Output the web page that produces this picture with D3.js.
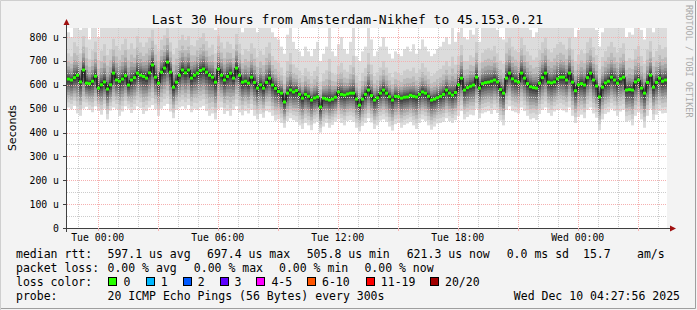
<!DOCTYPE html>
<html>
<head>
<meta charset="utf-8">
<script src="https://cdn.jsdelivr.net/npm/d3@7"></script>
<style>
  html, body { margin: 0; padding: 0; background: #f3f3f3; }
  svg { display: block; }
  text { font-family: "DejaVu Sans Mono", monospace; fill: #000; }
</style>
</head>
<body>
<svg id="chart" width="697" height="310"></svg>
<script>
// median rtt per 9 minute slot, in microseconds
const median = [
  624,620,630,640,612,662,607,605,615,636,
  586,600,612,582,600,649,620,615,624,638,
  599,620,630,649,640,635,628,650,683,632,
  607,653,670,695,653,590,611,640,662,650,
  662,628,640,649,660,666,653,640,632,611,
  666,640,620,635,649,628,670,640,611,615,
  607,632,610,586,600,586,610,628,599,585,
  572,565,528,565,578,570,576,560,544,560,
  552,536,545,549,507,544,540,536,540,548,
  570,560,557,562,565,565,540,515,540,560,
  578,555,536,545,565,578,565,550,536,552,
  550,544,548,549,556,552,549,560,570,565,
  552,536,540,546,552,560,578,565,557,568,
  600,628,578,588,594,599,632,586,605,609,
  611,615,620,612,580,565,628,649,625,616,
  611,649,628,605,592,588,586,607,630,649,
  611,608,612,625,632,632,620,649,611,575,
  600,605,599,630,649,620,595,549,590,608,
  615,632,620,607,625,632,578,580,578,612,
  620,586,565,610,640,590,610,628,615,620
];
// fastest ping per slot
const pingMin = [
  505,498,512,480,470,500,508,495,485,510,
  490,475,500,455,492,505,498,470,488,510,
  500,482,495,510,502,478,490,505,515,498,
  470,500,512,520,488,460,495,505,510,500,
  515,485,500,495,505,512,490,470,480,455,
  500,505,478,490,470,495,510,485,472,490,
  480,495,470,455,478,462,490,485,470,450,
  455,440,420,448,460,452,445,430,415,440,
  430,410,438,445,400,425,440,420,432,445,
  455,440,430,448,452,445,420,405,428,440,
  460,442,415,430,450,455,445,425,408,435,
  440,420,432,438,445,430,415,440,455,448,
  430,412,425,438,440,445,460,448,440,452,
  470,490,455,465,475,472,500,460,480,485,
  490,478,495,482,450,430,495,510,490,485,
  480,505,490,470,455,460,452,478,495,505,
  482,470,488,495,500,492,485,505,470,440,
  465,475,460,495,505,480,462,410,455,478,
  485,500,490,470,488,495,445,450,430,470,
  485,455,420,470,500,452,475,490,480,482
];
// slowest ping per slot
const pingMax = [
  820,800,900,860,830,920,880,790,850,900,
  800,860,900,840,870,910,880,850,890,920,
  870,900,850,930,890,860,900,920,950,880,
  850,900,920,960,880,840,870,910,930,900,
  920,880,860,900,910,940,890,850,880,830,
  920,890,860,900,870,850,930,880,820,860,
  850,890,870,820,860,840,880,900,820,800,
  790,760,730,810,860,780,750,740,720,760,
  740,720,750,780,700,730,760,850,740,720,
  770,800,750,730,780,850,720,700,740,760,
  860,790,720,740,760,800,760,730,710,740,
  730,720,750,760,740,770,730,750,790,760,
  740,720,730,750,760,780,800,770,850,780,
  820,880,800,790,830,810,900,780,840,860,
  870,850,880,830,800,790,900,920,870,850,
  840,920,880,850,830,800,820,860,900,920,
  860,840,870,890,900,880,850,920,860,800,
  830,860,840,900,920,870,830,760,820,850,
  880,900,870,840,860,890,800,820,810,860,
  880,830,790,860,900,820,850,880,860,870
];

const yTicks = [0, 100, 200, 300, 400, 500, 600, 700, 800];
const endTime = new Date(2025, 11, 10, 4, 27, 56);
const slotMinutes = 9;

const titleText = "Last 30 Hours from Amsterdam-Nikhef to 45.153.0.21";
const rttLabel = "median rtt:";
const rttStats = ["597.1 us avg", "697.4 us max", "505.8 us min", "621.3 us now", "0.0 ms sd", "15.7", "am/s"];
const lossLabel = "packet loss:";
const lossStats = ["0.00 % avg", "0.00 % max", "0.00 % min", "0.00 % now"];
const lossColorLabel = "loss color:";
const lossClasses = ["0", "1", "2", "3", "4-5", "6-10", "11-19", "20/20"];
const lossColors = ["#26ff00", "#00b8ff", "#0059ff", "#5e00ff", "#ff00ff", "#ff5500", "#ff0000", "#a10000"];
const probeLabel = "probe:";
const probeText = "20 ICMP Echo Pings (56 Bytes) every 300s";
const stampText = "Wed Dec 10 04:27:56 2025";

const svg = d3.select("#chart");
const W = 697, H = 310;
const pL = 67, pR = 667, pT = 28, pB = 228;

// canvas and 3d border
svg.append("rect").attr("width", W).attr("height", H).attr("fill", "#f3f3f3");
svg.append("path").attr("d", `M0.5,${H} V0.5 H${W}`).attr("stroke", "#cfcfcf").attr("fill", "none");
svg.append("path").attr("d", `M1,${H - 1.5} H${W - 1.5} V1`).attr("stroke", "#9e9e9e").attr("fill", "none");
svg.append("rect").attr("x", pL).attr("y", pT).attr("width", pR - pL).attr("height", pB - pT).attr("fill", "#fff");

const startTime = new Date(endTime.getTime() - 30 * 3600 * 1000);
const x = d3.scaleTime().domain([startTime, endTime]).range([pL, pR]);
const y = d3.scaleLinear().domain([0, 838]).range([pB, pT]);
const slotTime = i => new Date(startTime.getTime() + i * slotMinutes * 60000);

svg.append("clipPath").attr("id", "plot")
  .append("rect").attr("x", pL).attr("y", pT).attr("width", pR - pL).attr("height", pB - pT);

// smoke: outer pings light, inner pings dark
const smokeShades = ["#dcdcdc", "#cccccc", "#bababa", "#a6a6a6", "#929292", "#7e7e7e", "#6a6a6a", "#555555", "#404040", "#2a2a2a"];
const upFrac = [1, 0.55, 0.38, 0.27, 0.2, 0.15, 0.11, 0.075, 0.045, 0.02];
const downFrac = [1, 0.82, 0.68, 0.56, 0.46, 0.37, 0.28, 0.2, 0.12, 0.05];

const smoke = svg.append("g").attr("clip-path", "url(#plot)");
smokeShades.forEach((shade, k) => {
  smoke.append("g").attr("fill", shade)
    .selectAll("rect").data(median).join("rect")
    .attr("x", (d, i) => x(slotTime(i)))
    .attr("width", (d, i) => x(slotTime(i + 1)) - x(slotTime(i)))
    .attr("y", (d, i) => y(d + (pingMax[i] - d) * upFrac[k]))
    .attr("height", (d, i) => y(d - (d - pingMin[i]) * downFrac[k]) - y(d + (pingMax[i] - d) * upFrac[k]));
});

// grid
const grid = svg.append("g").attr("shape-rendering", "crispEdges");
const minorY = d3.range(50, 838, 100);
grid.selectAll(".gy").data(minorY).join("line")
  .attr("x1", pL).attr("x2", pR).attr("y1", d => Math.round(y(d)) + 0.5).attr("y2", d => Math.round(y(d)) + 0.5)
  .attr("stroke", "#cccccc").attr("stroke-dasharray", "1,1");
const hourTicks = x.ticks(d3.timeHour.every(1)).filter(t => t.getHours() % 3 !== 0);
grid.selectAll(".gx").data(hourTicks).join("line")
  .attr("x1", d => Math.round(x(d)) + 0.5).attr("x2", d => Math.round(x(d)) + 0.5).attr("y1", pT).attr("y2", pB)
  .attr("stroke", "#cccccc").attr("stroke-dasharray", "1,1");
grid.selectAll(".my").data(yTicks.filter(v => v > 0)).join("line")
  .attr("x1", pL).attr("x2", pR).attr("y1", d => Math.round(y(d)) + 0.5).attr("y2", d => Math.round(y(d)) + 0.5)
  .attr("stroke", "#f5b0b0").attr("stroke-dasharray", "1,1");
const majorTicks = x.ticks(d3.timeHour.every(3));
grid.selectAll(".mx").data(majorTicks).join("line")
  .attr("x1", d => Math.round(x(d)) + 0.5).attr("x2", d => Math.round(x(d)) + 0.5).attr("y1", pT).attr("y2", pB)
  .attr("stroke", "#f5b0b0").attr("stroke-dasharray", "1,1");

// median line: dark risers, green steps
const med = svg.append("g").attr("clip-path", "url(#plot)");
med.selectAll("line").data(median.slice(1)).join("line")
  .attr("x1", (d, i) => x(slotTime(i + 1))).attr("x2", (d, i) => x(slotTime(i + 1)))
  .attr("y1", (d, i) => y(median[i])).attr("y2", d => y(d))
  .attr("stroke", "#1a1a1a").attr("stroke-width", 1.5);
med.selectAll("rect").data(median).join("rect")
  .attr("x", (d, i) => x(slotTime(i)))
  .attr("width", (d, i) => x(slotTime(i + 1)) - x(slotTime(i)))
  .attr("y", d => y(d) - 1.5).attr("height", 3)
  .attr("fill", lossColors[0]);

// axes
const axis = svg.append("g").attr("shape-rendering", "crispEdges");
axis.append("line").attr("x1", pL - 0.5).attr("x2", pL - 0.5).attr("y1", pB + 4).attr("y2", pT - 4).attr("stroke", "#404040");
axis.append("line").attr("x1", pL - 4).attr("x2", pR + 5).attr("y1", pB + 0.5).attr("y2", pB + 0.5).attr("stroke", "#404040");
axis.selectAll(".yt").data(yTicks).join("line")
  .attr("x1", pL - 4).attr("x2", pL).attr("y1", d => Math.round(y(d)) + 0.5).attr("y2", d => Math.round(y(d)) + 0.5)
  .attr("stroke", "#404040");
axis.selectAll(".xt").data(majorTicks).join("line")
  .attr("x1", d => Math.round(x(d)) + 0.5).attr("x2", d => Math.round(x(d)) + 0.5).attr("y1", pB).attr("y2", pB + 3)
  .attr("stroke", "#f5b0b0");
svg.append("path").attr("d", `M${pL - 3.5},${pT - 3} L${pL + 2.5},${pT - 3} L${pL - 0.5},${pT - 9} Z`).attr("fill", "#a01010");
svg.append("path").attr("d", `M${pR + 3},${pB - 2.5} L${pR + 3},${pB + 3.5} L${pR + 9},${pB + 0.5} Z`).attr("fill", "#a01010");

// y labels
svg.append("g").selectAll("text").data(yTicks).join("text")
  .attr("x", 59).attr("y", d => y(d) + 3.5)
  .attr("text-anchor", "end").attr("font-size", "9.8px")
  .text(d => d === 0 ? "0" : d + " u");

// x labels
const fmt = d3.timeFormat("%a %H:%M");
svg.append("g").selectAll("text").data(x.ticks(d3.timeHour.every(6))).join("text")
  .attr("x", d => x(d)).attr("y", 241)
  .attr("text-anchor", "middle").attr("font-size", "9.8px")
  .text(fmt);

// title and side texts
svg.append("text").attr("x", 347.5).attr("y", 24).attr("text-anchor", "middle")
  .attr("font-size", "13px").text(titleText);
svg.append("text").attr("transform", "translate(16,128) rotate(-90)").attr("text-anchor", "middle")
  .style("font-family", "'DejaVu Sans', sans-serif").attr("font-size", "11px").text("Seconds");
svg.append("text").attr("transform", "translate(686,5) rotate(90)")
  .attr("font-size", "8.5px").style("fill", "#aaaaaa").text("RRDTOOL / TOBI OETIKER");

// legend
const lg = svg.append("g").attr("font-size", "11.5px");
lg.append("text").attr("x", 16).attr("y", 257.5).text(rttLabel);
const rttX = [107.5, 207, 306.7, 406.7, 506.7, 583, 637];
lg.selectAll(".rtt").data(rttStats).join("text").attr("x", (d, i) => rttX[i]).attr("y", 257.5).text(d => d);
lg.append("text").attr("x", 16).attr("y", 271.5).text(lossLabel);
const lossX = [107.5, 193.8, 279, 364.4];
lg.selectAll(".loss").data(lossStats).join("text").attr("x", (d, i) => lossX[i]).attr("y", 271.5).text(d => d);
lg.append("text").attr("x", 16).attr("y", 285.5).text(lossColorLabel);
const boxX = [108.4, 145.8, 182.7, 219.6, 256.4, 307, 365.8, 430];
lg.selectAll(".box").data(lossColors).join("rect")
  .attr("x", (d, i) => Math.round(boxX[i]) + 0.5).attr("y", 277.5).attr("width", 8).attr("height", 8)
  .attr("fill", d => d).attr("stroke", "#000");
lg.selectAll(".cls").data(lossClasses).join("text")
  .attr("x", (d, i) => boxX[i] + 15).attr("y", 285.5).text(d => d);
lg.append("text").attr("x", 16).attr("y", 299.5).text(probeLabel);
lg.append("text").attr("x", 107.5).attr("y", 299.5).text(probeText);
lg.append("text").attr("x", 680).attr("y", 299.5).attr("text-anchor", "end").text(stampText);
</script>
</body>
</html>
